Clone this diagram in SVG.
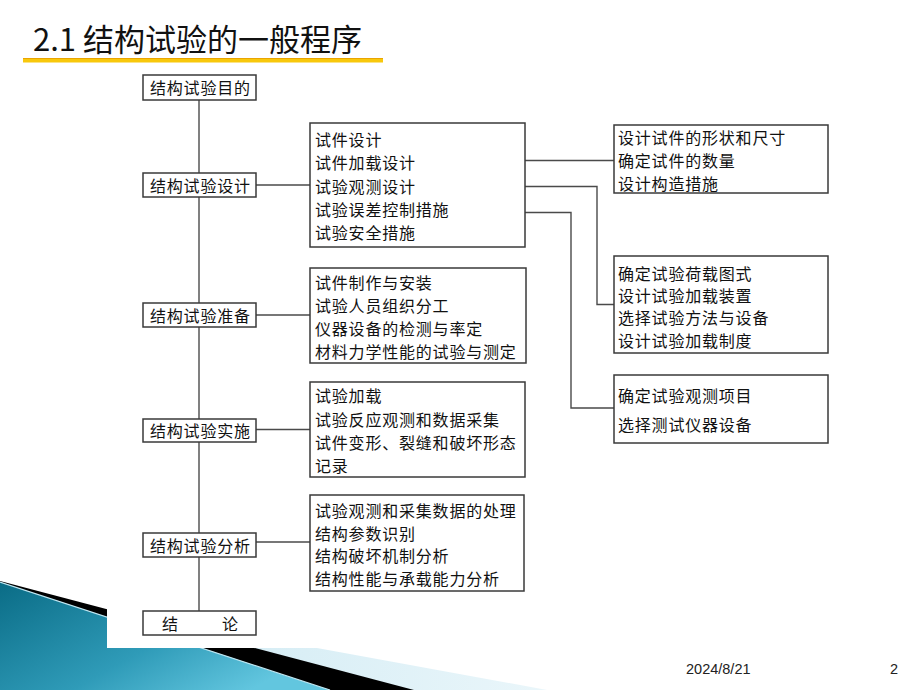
<svg xmlns="http://www.w3.org/2000/svg" width="920" height="690" viewBox="0 0 920 690">
  <defs>
    <linearGradient id="teal" x1="0" y1="0" x2="1" y2="0.6">
      <stop offset="0" stop-color="#0a6c86"/>
      <stop offset="0.6" stop-color="#2f9bb8"/>
      <stop offset="1" stop-color="#62c6df"/>
    </linearGradient>
    <linearGradient id="pale" x1="0" y1="0" x2="1" y2="0">
      <stop offset="0" stop-color="#c6e6f1"/>
      <stop offset="1" stop-color="#eaf6fa"/>
    </linearGradient>
  </defs>
  <style>
    .box { fill: #ffffff; stroke: #3a3a3a; stroke-width: 1.5; }
    .t { font-family: 'Noto Sans CJK SC', 'Noto Sans', sans-serif; font-size: 16px; letter-spacing: 0.8px; fill: #111111; }
    .ln { fill: none; stroke: #4a4a4a; stroke-width: 1.4; }
    .title { font-family: 'Noto Sans CJK SC', 'Noto Sans', sans-serif; font-size: 31px; fill: #111111; }
    .foot { font-family: 'Liberation Sans', 'Noto Sans', sans-serif; font-size: 14.5px; fill: #222222; }
  </style>
  <rect width="920" height="690" fill="#ffffff"/>

  <!-- bottom-left decoration -->
  <g id="decoration">
    <polygon points="0,590 547,690 0,690" fill="url(#pale)"/>
    <polygon points="0,581 414,690 0,690" fill="#000000"/>
    <polygon points="0,582 330,690 0,690" fill="url(#teal)"/>
    <line x1="0" y1="582" x2="330" y2="690" stroke="#bfe6f1" stroke-width="1.2"/>
  </g>
  <!-- white figure panel -->
  <rect x="107" y="68" width="733" height="580" fill="#ffffff"/>

  <!-- title -->
  <g id="title">
    <text class="title" x="33" y="51">2.1 结构试验的一般程序</text>
    <rect x="23" y="58.5" width="360" height="4" fill="#f8c80c"/>
    <line x1="23" y1="58.5" x2="383" y2="58.5" stroke="#eaa400" stroke-width="1"/>
  </g>

  <!-- connectors -->
  <g id="connectors">
    <line class="ln" x1="199" y1="100" x2="199" y2="173"/>
    <line class="ln" x1="199" y1="197" x2="199" y2="303"/>
    <line class="ln" x1="199" y1="327" x2="199" y2="419"/>
    <line class="ln" x1="199" y1="442" x2="199" y2="533"/>
    <line class="ln" x1="199" y1="557" x2="199" y2="611"/>
    <line class="ln" x1="256" y1="185" x2="310" y2="185"/>
    <line class="ln" x1="256" y1="315" x2="310" y2="315"/>
    <line class="ln" x1="256" y1="429.5" x2="310" y2="429.5"/>
    <line class="ln" x1="256" y1="542" x2="310" y2="542"/>
    <line class="ln" x1="525" y1="160.5" x2="614" y2="160.5"/>
    <polyline class="ln" points="525,186.5 597,186.5 597,304.5 614,304.5"/>
    <polyline class="ln" points="525,212.5 571,212.5 571,408 614,408"/>
  </g>

  <!-- left column -->
  <g id="n-purpose">
    <rect class="box" x="143" y="75" width="113" height="25"/>
    <text class="t" x="150" y="94">结构试验目的</text>
  </g>
  <g id="n-design">
    <rect class="box" x="143" y="173" width="113" height="24"/>
    <text class="t" x="150" y="191.5">结构试验设计</text>
  </g>
  <g id="n-prepare">
    <rect class="box" x="143" y="303" width="113" height="24"/>
    <text class="t" x="150" y="321.5">结构试验准备</text>
  </g>
  <g id="n-implement">
    <rect class="box" x="143" y="419" width="113" height="23"/>
    <text class="t" x="150" y="437">结构试验实施</text>
  </g>
  <g id="n-analysis">
    <rect class="box" x="143" y="533" width="113" height="24"/>
    <text class="t" x="150" y="551.5">结构试验分析</text>
  </g>
  <g id="n-conclusion">
    <rect class="box" x="143" y="611" width="113" height="24"/>
    <text class="t" x="162" y="629.5">结</text>
    <text class="t" x="222" y="629.5">论</text>
  </g>

  <!-- middle column -->
  <g id="n-design-items">
    <rect class="box" x="310" y="123" width="215" height="124"/>
    <text class="t" x="315" y="146">试件设计</text>
    <text class="t" x="315" y="169.3">试件加载设计</text>
    <text class="t" x="315" y="192.6">试验观测设计</text>
    <text class="t" x="315" y="215.9">试验误差控制措施</text>
    <text class="t" x="315" y="239.2">试验安全措施</text>
  </g>
  <g id="n-prepare-items">
    <rect class="box" x="310" y="268" width="216" height="95"/>
    <text class="t" x="315" y="289">试件制作与安装</text>
    <text class="t" x="315" y="312">试验人员组织分工</text>
    <text class="t" x="315" y="335">仪器设备的检测与率定</text>
    <text class="t" x="315" y="357.5">材料力学性能的试验与测定</text>
  </g>
  <g id="n-implement-items">
    <rect class="box" x="310" y="382" width="215" height="95"/>
    <text class="t" x="315" y="402">试验加载</text>
    <text class="t" x="315" y="425.5">试验反应观测和数据采集</text>
    <text class="t" x="315" y="448.5">试件变形、裂缝和破坏形态</text>
    <text class="t" x="315" y="471.5">记录</text>
  </g>
  <g id="n-analysis-items">
    <rect class="box" x="310" y="495" width="214" height="96"/>
    <text class="t" x="315" y="517">试验观测和采集数据的处理</text>
    <text class="t" x="315" y="539.5">结构参数识别</text>
    <text class="t" x="315" y="562">结构破坏机制分析</text>
    <text class="t" x="315" y="584.5">结构性能与承载能力分析</text>
  </g>

  <!-- right column -->
  <g id="n-specimen">
    <rect class="box" x="614" y="125" width="214" height="68"/>
    <text class="t" x="618" y="144">设计试件的形状和尺寸</text>
    <text class="t" x="618" y="167">确定试件的数量</text>
    <text class="t" x="618" y="190">设计构造措施</text>
  </g>
  <g id="n-loading">
    <rect class="box" x="614" y="256" width="214" height="97"/>
    <text class="t" x="618" y="280">确定试验荷载图式</text>
    <text class="t" x="618" y="302.2">设计试验加载装置</text>
    <text class="t" x="618" y="324.4">选择试验方法与设备</text>
    <text class="t" x="618" y="346.6">设计试验加载制度</text>
  </g>
  <g id="n-measure">
    <rect class="box" x="614" y="375" width="214" height="68"/>
    <text class="t" x="618" y="401.5">确定试验观测项目</text>
    <text class="t" x="618" y="430.5">选择测试仪器设备</text>
  </g>

  <!-- footer -->
  <g id="footer">
    <text class="foot" x="686" y="674">2024/8/21</text>
    <text class="foot" x="890" y="674">2</text>
  </g>
</svg>
